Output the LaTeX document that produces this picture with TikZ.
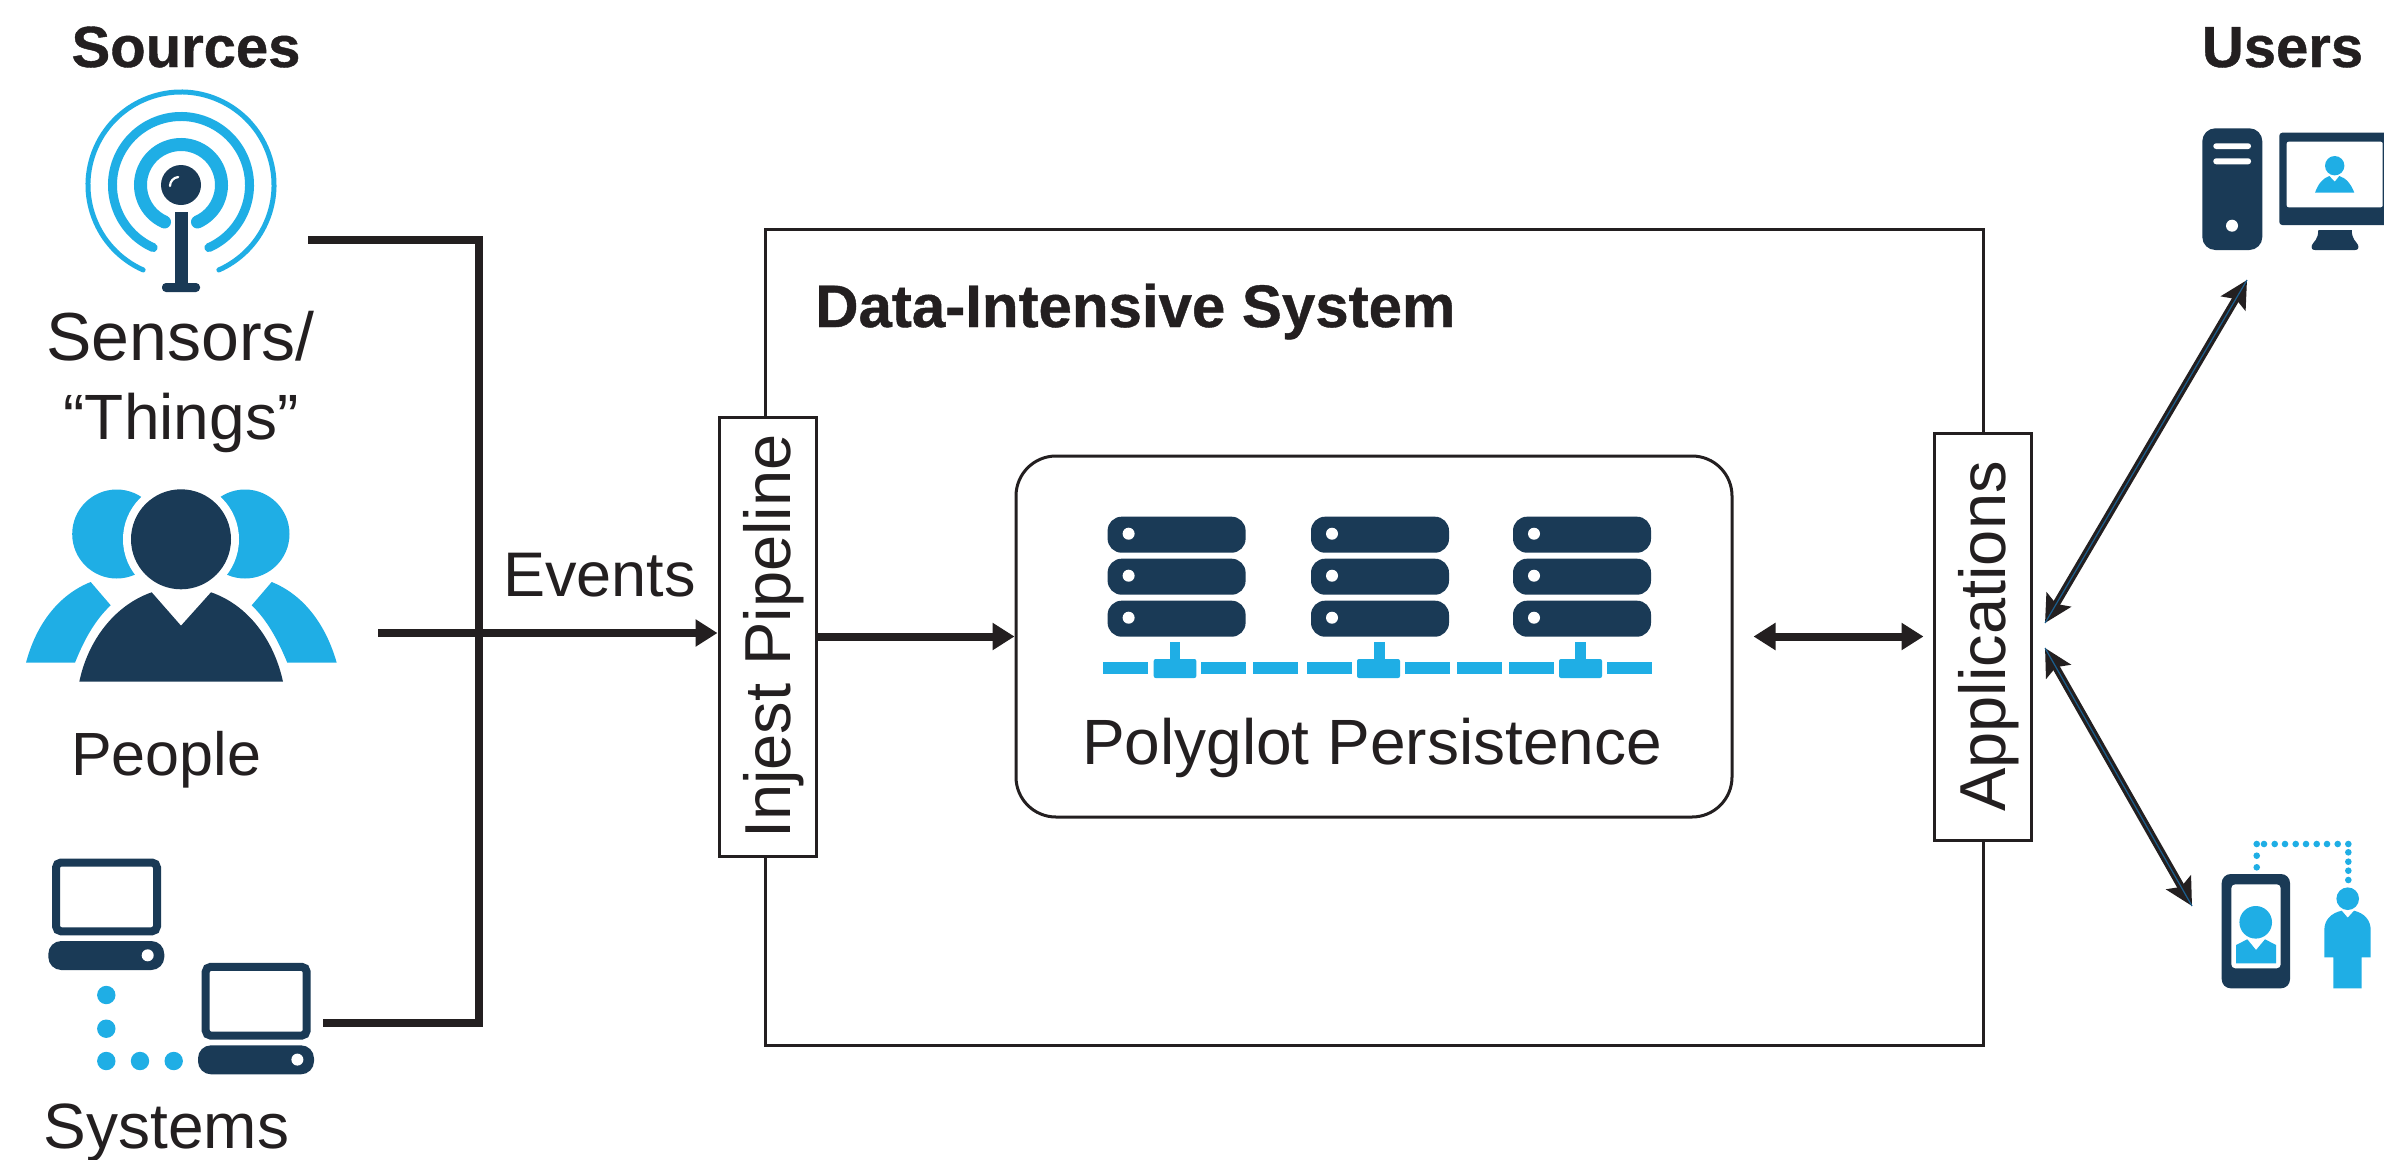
\documentclass[tikz,border=0pt]{standalone}
\usepackage{fontspec}
\setmainfont{Liberation Sans}
\newfontfamily\heavyface[BoldFeatures={FakeBold=0.7}]{Liberation Sans}
\usetikzlibrary{arrows.meta}
\definecolor{ink}{HTML}{231F20}
\definecolor{navy}{HTML}{1A3A56}
\definecolor{sky}{HTML}{1FAEE5}
\definecolor{core}{HTML}{1B5E8E}
\tikzset{
  txt/.style={font=\fontsize{64}{70}\selectfont, text=ink, inner sep=0pt, anchor=base},
  head/.style={font=\fontsize{58}{64}\selectfont\heavyface\bfseries, text=ink, inner sep=0pt, anchor=base},
  vbox/.style={draw=ink, line width=3pt, fill=white, rotate=90, inner sep=0pt, text=ink,
     font=\fontsize{65}{70}\selectfont, text height=46pt, text depth=0pt, minimum height=97pt},
  thick line/.style={draw=ink, line width=8pt},
  flowarrow/.style={draw=ink, line width=8pt, -{Triangle[length=22pt,width=26pt]}},
  duplex/.style={draw=ink, line width=8pt, {Triangle[length=22pt,width=26pt]}-{Triangle[length=22pt,width=26pt]}},
  diagarrow/.style={draw=ink, line width=7.5pt, {Stealth[length=27pt,width=28pt,inset=5pt]}-{Stealth[length=27pt,width=28pt,inset=5pt]}},
  corestroke/.style={draw=core, line width=1.2pt},
}
% x, y of the top-left corner of a laptop
\newcommand{\laptopicon}[2]{%
  \begin{scope}[shift={(#1,#2)}]
    \draw[navy,line width=8pt,rounded corners=5pt] (4.3,-4.2) rectangle (105.3,-73);
    \fill[navy,rounded corners=13pt] (-3.4,-82.7) rectangle (112.6,-111.7);
    \fill[white] (96,-97) circle (6pt);
  \end{scope}}
% left x of a server stack
\newcommand{\serverstack}[1]{%
  \begin{scope}[shift={(#1,0)}]
    \foreach \t in {-516.7,-558.7,-600.7}{
      \fill[navy,rounded corners=14pt] (0,\t) rectangle (138,\t-36);
      \fill[white] (21,\t-17) circle (6pt);
    }
  \end{scope}}
\begin{document}
\begin{tikzpicture}[x=1pt,y=1pt]
\useasboundingbox (0,0) rectangle (2384,-1159);
\fill[white] (0,0) rectangle (2384,-1159);

% ---------- headings ----------
\node[head] (sources) at (186,-67) {Sources};
\node[head] (users) at (2282.5,-67) {Users};

% ---------- antenna ----------
\begin{scope}[sky,line cap=round]
  \draw[line width=13pt] (181,-185) ++(246:40.5pt) arc[start angle=246,end angle=-66,radius=40.5pt];
  \draw[line width=9pt] (181,-185) ++(246:68.5pt) arc[start angle=246,end angle=-66,radius=68.5pt];
  \draw[line width=5pt] (181,-185) ++(246:93pt) arc[start angle=246,end angle=-66,radius=93pt];
\end{scope}
\fill[navy] (181,-185) circle (20pt);
\draw[white,line width=2.2pt,line cap=round] (170,-186) arc[start angle=180,end angle=95,radius=9pt];
\fill[navy] (174.5,-212) rectangle (188,-285);
\fill[navy,rounded corners=4pt] (162,-283) rectangle (200,-292);
\node[txt,font=\fontsize{68}{72}\selectfont] (sensors) at (180.5,-360) {Sensors/};
\node[txt] (things) at (181,-439) {“Things”};

% ---------- people ----------
\fill[sky] (116.7,-534) circle (44.5pt);
\fill[sky] (245,-534) circle (44.5pt);
\fill[white] (181,-539.3) circle (58pt);
\fill[navy] (181,-539.3) circle (50pt);
\fill[navy] (79.3,-681.7) .. controls (88,-640) and (115,-605) .. (151.7,-592.3) -- (181,-625.7) -- (211,-592.3) .. controls (248,-605) and (274,-640) .. (283,-681.7) -- cycle;
\fill[sky] (26,-662.7) .. controls (36,-625) and (58,-595) .. (90.7,-582) -- (110.7,-605.3) .. controls (95,-620) and (84,-640) .. (75,-662.7) -- cycle;
\fill[sky] (336.7,-662.7) .. controls (326,-625) and (304,-595) .. (271.7,-582) -- (251.7,-605.3) .. controls (267,-620) and (278,-640) .. (287.3,-662.7) -- cycle;
\node[txt,font=\fontsize{61}{66}\selectfont] (people) at (166,-775) {People};

% ---------- systems ----------
\laptopicon{51.7}{-858.3}
\laptopicon{201.4}{-962.6}
\foreach \px/\py in {106.3/-995,106.3/-1028.7,106.3/-1061,140/-1061,173.7/-1061}
  \fill[sky] (\px,\py) circle (9.2pt);
\node[txt] (systems) at (166.5,-1148) {Systems};

% ---------- outer system ----------
\node[draw=ink,line width=3pt,minimum width=1218pt,minimum height=816pt,inner sep=0pt] (system) at (1374,-637) {};
\node[head,font=\fontsize{60}{66}\selectfont\heavyface\bfseries,anchor=base west] (systemtitle) at (815,-327) {Data-Intensive System};

% ---------- polyglot ----------
\node[draw=ink,line width=3pt,fill=white,rounded corners=40pt,minimum width=716pt,minimum height=361pt,inner sep=0pt] (poly) at (1374,-636.5) {};
\serverstack{1107.6}
\serverstack{1311}
\serverstack{1513}
\foreach \a/\b in {1103/1148,1201/1246,1253/1298,1307/1352,1405/1450,1457/1502,1509/1554,1607/1652}
  \fill[sky] (\a,-662.3) rectangle (\b,-674.3);
\foreach \a/\b/\s/\e in {1153.7/1196.3/1169.7/1180.3,1357/1400/1374/1384.5,1559/1602/1575/1586}{
  \fill[sky,rounded corners=2pt] (\a,-659) rectangle (\b,-678);
  \fill[sky] (\s,-642) rectangle (\e,-660);
}
\node[txt] (polylabel) at (1372,-764) {Polyglot Persistence};

% ---------- pipeline and applications ----------
\node[vbox,minimum width=439pt] (inject) at (767.5,-636.5) {Injest Pipeline};
\node[vbox,minimum width=407pt] (apps) at (1982.5,-636.5) {Applications};
\node[txt,font=\fontsize{63}{68}\selectfont,anchor=base west] (events) at (503,-596.5) {Events};

% ---------- free connector ends ----------
\coordinate (sensorsOut) at (308,-240);
\coordinate (peopleOut) at (378,-633);
\coordinate (systemsOut) at (323,-1023);
\coordinate (busTop) at (479,-240);
\coordinate (busBottom) at (479,-1023);
\coordinate (appsUp) at (2045,-623);
\coordinate (appsDown) at (2045,-648);
\coordinate (desktopEnd) at (2247,-280);
\coordinate (mobileEnd) at (2192,-906);

\draw[thick line,line join=miter] (sensorsOut) -- (busTop) -- (busBottom) -- (systemsOut);
\draw[flowarrow] (peopleOut) -- (peopleOut -| inject.north);
\draw[flowarrow] (inject.south) -- (poly.west);
\draw[duplex,shorten <=20pt,shorten >=9pt] (poly.east) -- (apps.north);
\draw[diagarrow] (appsUp) -- (desktopEnd);
\draw[corestroke] (appsUp) -- (desktopEnd);
\draw[diagarrow] (appsDown) -- (mobileEnd);
\draw[corestroke] (appsDown) -- (mobileEnd);

% ---------- desktop user ----------
\fill[navy,rounded corners=13pt] (2202.3,-128.3) rectangle (2262.3,-250);
\fill[white,rounded corners=2.8pt] (2213.3,-143.3) rectangle (2251,-149);
\fill[white,rounded corners=2.8pt] (2213.3,-158.3) rectangle (2251,-164.3);
\fill[white] (2232,-225.7) circle (6pt);
\fill[navy,rounded corners=3pt] (2279.3,-132.7) rectangle (2390,-225);
\fill[white,rounded corners=2pt] (2286.7,-141.7) rectangle (2382.7,-207.3);
\fill[navy] (2318.3,-230) -- (2351.7,-230) .. controls (2352,-240) and (2356,-241) .. (2358,-245) .. controls (2359,-248) and (2358,-250) .. (2355,-250) -- (2315,-250) .. controls (2312,-250) and (2311,-248) .. (2312,-245) .. controls (2314,-241) and (2318,-240) .. cycle;
\fill[sky] (2334.7,-165.7) circle (9.7pt);
\fill[sky] (2315,-192.7) .. controls (2318,-184) and (2323,-178) .. (2329.3,-176) -- (2334.7,-181.7) -- (2339.3,-176) .. controls (2346,-178) and (2351,-184) .. (2354.3,-192.7) -- cycle;

% ---------- mobile user ----------
\fill[navy,rounded corners=9pt] (2221.7,-874) rectangle (2290,-988.3);
\fill[white,rounded corners=4pt] (2231.3,-884.3) rectangle (2280.7,-968.3);
\fill[sky] (2255.7,-922.3) circle (16.3pt);
\fill[sky] (2236,-963.3) -- (2236,-945) -- (2247.3,-939.3) -- (2256,-950) -- (2265,-939.3) -- (2276,-945) -- (2276,-963.3) -- cycle;
\fill[sky] (2347.7,-898.7) circle (11.3pt);
\fill[sky] (2341.7,-910.7) -- (2347.7,-917.7) -- (2354,-910.7) .. controls (2364,-913) and (2370.7,-920) .. (2370.7,-930) -- (2370.7,-957.3) -- (2361.7,-957.3) -- (2361.7,-988.3) -- (2333.3,-988.3) -- (2333.3,-957.3) -- (2324.3,-957.3) -- (2324.3,-930) .. controls (2324.3,-920) and (2331,-913) .. cycle;
\foreach \dx in {2256.7,2264,2274.7,2285,2295.7,2306,2316.7,2327,2337.7,2348.3}
  \fill[sky] (\dx,-844) circle (3.3pt);
\foreach \dy in {-855.7,-867.3}
  \fill[sky] (2256.7,\dy) circle (3.3pt);
\foreach \dy in {-852.3,-861.7,-870.7,-880}
  \fill[sky] (2348.3,\dy) circle (3.3pt);
\end{tikzpicture}
\end{document}
